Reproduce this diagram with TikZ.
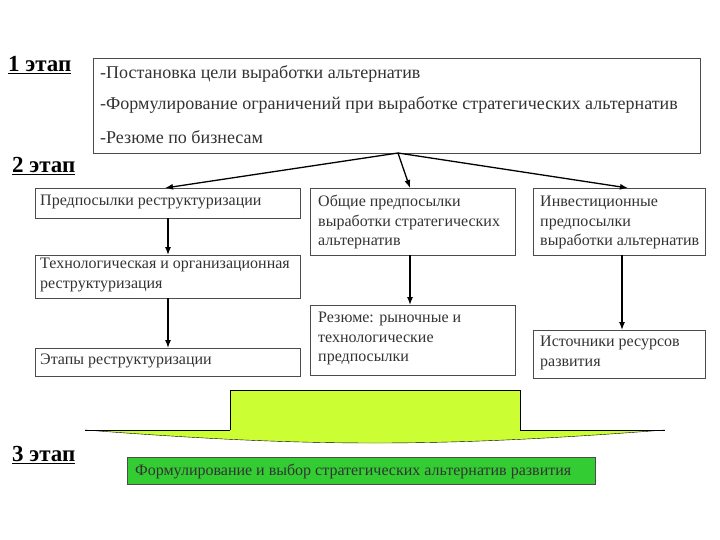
\documentclass[tikz,border=0pt]{standalone}
\usepackage{fontspec}
\usetikzlibrary{arrows.meta}
\setmainfont{Liberation Serif}
\begin{document}
\begin{tikzpicture}[x=1pt,y=-1pt,
 box/.style={draw=black!70,fill=white},
 txt/.style={font=\fontsize{16}{19.5}\selectfont,align=left,anchor=north west,inner sep=0pt,text=black!80},
 toptxt/.style={txt,font=\fontsize{18}{20}\selectfont},
 stage/.style={font=\fontsize{23}{25}\selectfont\bfseries,anchor=north west,inner sep=0pt},
 arr/.style={-{Latex[length=8pt,width=6pt]},line width=1.3pt}]
\useasboundingbox (0,0) rectangle (720,540);
\node[stage] (s1) at (8,56) {\underline{1 этап}};
\node[stage] (s2) at (12,157) {\underline{2 этап}};
\node[stage] (s3) at (12,446) {\underline{3 этап}};
\draw[box] (93,58) rectangle (700,153);
\coordinate (top) at (398,153);
\node[toptxt] (t1) at (100,65) {-Постановка цели выработки альтернатив};
\node[toptxt] (t2) at (100,96) {-Формулирование ограничений при выработке стратегических альтернатив};
\node[toptxt] (t3) at (100,130) {-Резюме по бизнесам};
\draw[box] (35,188) rectangle (300,218);
\node[txt] (a) at (40,195) {Предпосылки реструктуризации};
\draw[box] (310,188) rectangle (515,255);
\node[txt] (b) at (318,195) {Общие предпосылки\\выработки стратегических\\альтернатив};
\draw[box] (533,188) rectangle (705,255);
\node[txt] (c) at (540,196) {Инвестиционные\\предпосылки\\выработки альтернатив};
\draw[box] (35,255) rectangle (300,298);
\node[txt] (d) at (40,258) {Технологическая и организационная\\реструктуризация};
\draw[box] (35,348) rectangle (300,376);
\node[txt] (e) at (40,354) {Этапы реструктуризации};
\draw[box] (310,305) rectangle (515,375);
\node[txt] (f) at (318,312) {Резюме: рыночные и\\технологические\\предпосылки};
\draw[box] (533,330) rectangle (705,378);
\node[txt] (g) at (540,336) {Источники ресурсов\\развития};
\coordinate (aT) at (165,188); \coordinate (bT) at (410,188); \coordinate (cT) at (628,188);
\draw[arr] (top) -- (aT); \draw[arr] (top) -- (bT); \draw[arr] (top) -- (cT);
\draw[arr] (168,218) coordinate (aB) -- (168,255) coordinate (dT);
\draw[arr] (168,298) coordinate (dB) -- (168,348) coordinate (eT);
\draw[arr] (410,255) coordinate (bB) -- (410,305) coordinate (fT);
\draw[arr] (622,255) coordinate (cB) -- (622,330) coordinate (gT);
\fill[fill={rgb,255:red,204;green,255;blue,51}] (85,430) -- (230,430) -- (230,390) -- (520,390) -- (520,430) -- (665,430) .. controls (560,438) and (470,443) .. (375,443) .. controls (280,443) and (190,438) .. (85,430) -- cycle;
\draw[thick] (230,430) -- (230,390) -- (520,390) -- (520,430);
\draw[thick] (85,430) -- (230,430); \draw[thick] (520,430) -- (665,430);
\draw (85,430) .. controls (190,438) and (280,443) .. (375,443) .. controls (470,443) and (560,438) .. (665,430);
\node[draw=black!70,fill={rgb,255:red,51;green,204;blue,51},minimum width=468pt,minimum height=27pt,anchor=north west,inner sep=0pt] (h) at (127,457) {};
\node[txt,anchor=west] (ht) at (135,471) {Формулирование и выбор стратегических альтернатив развития};
\end{tikzpicture}
\end{document}
